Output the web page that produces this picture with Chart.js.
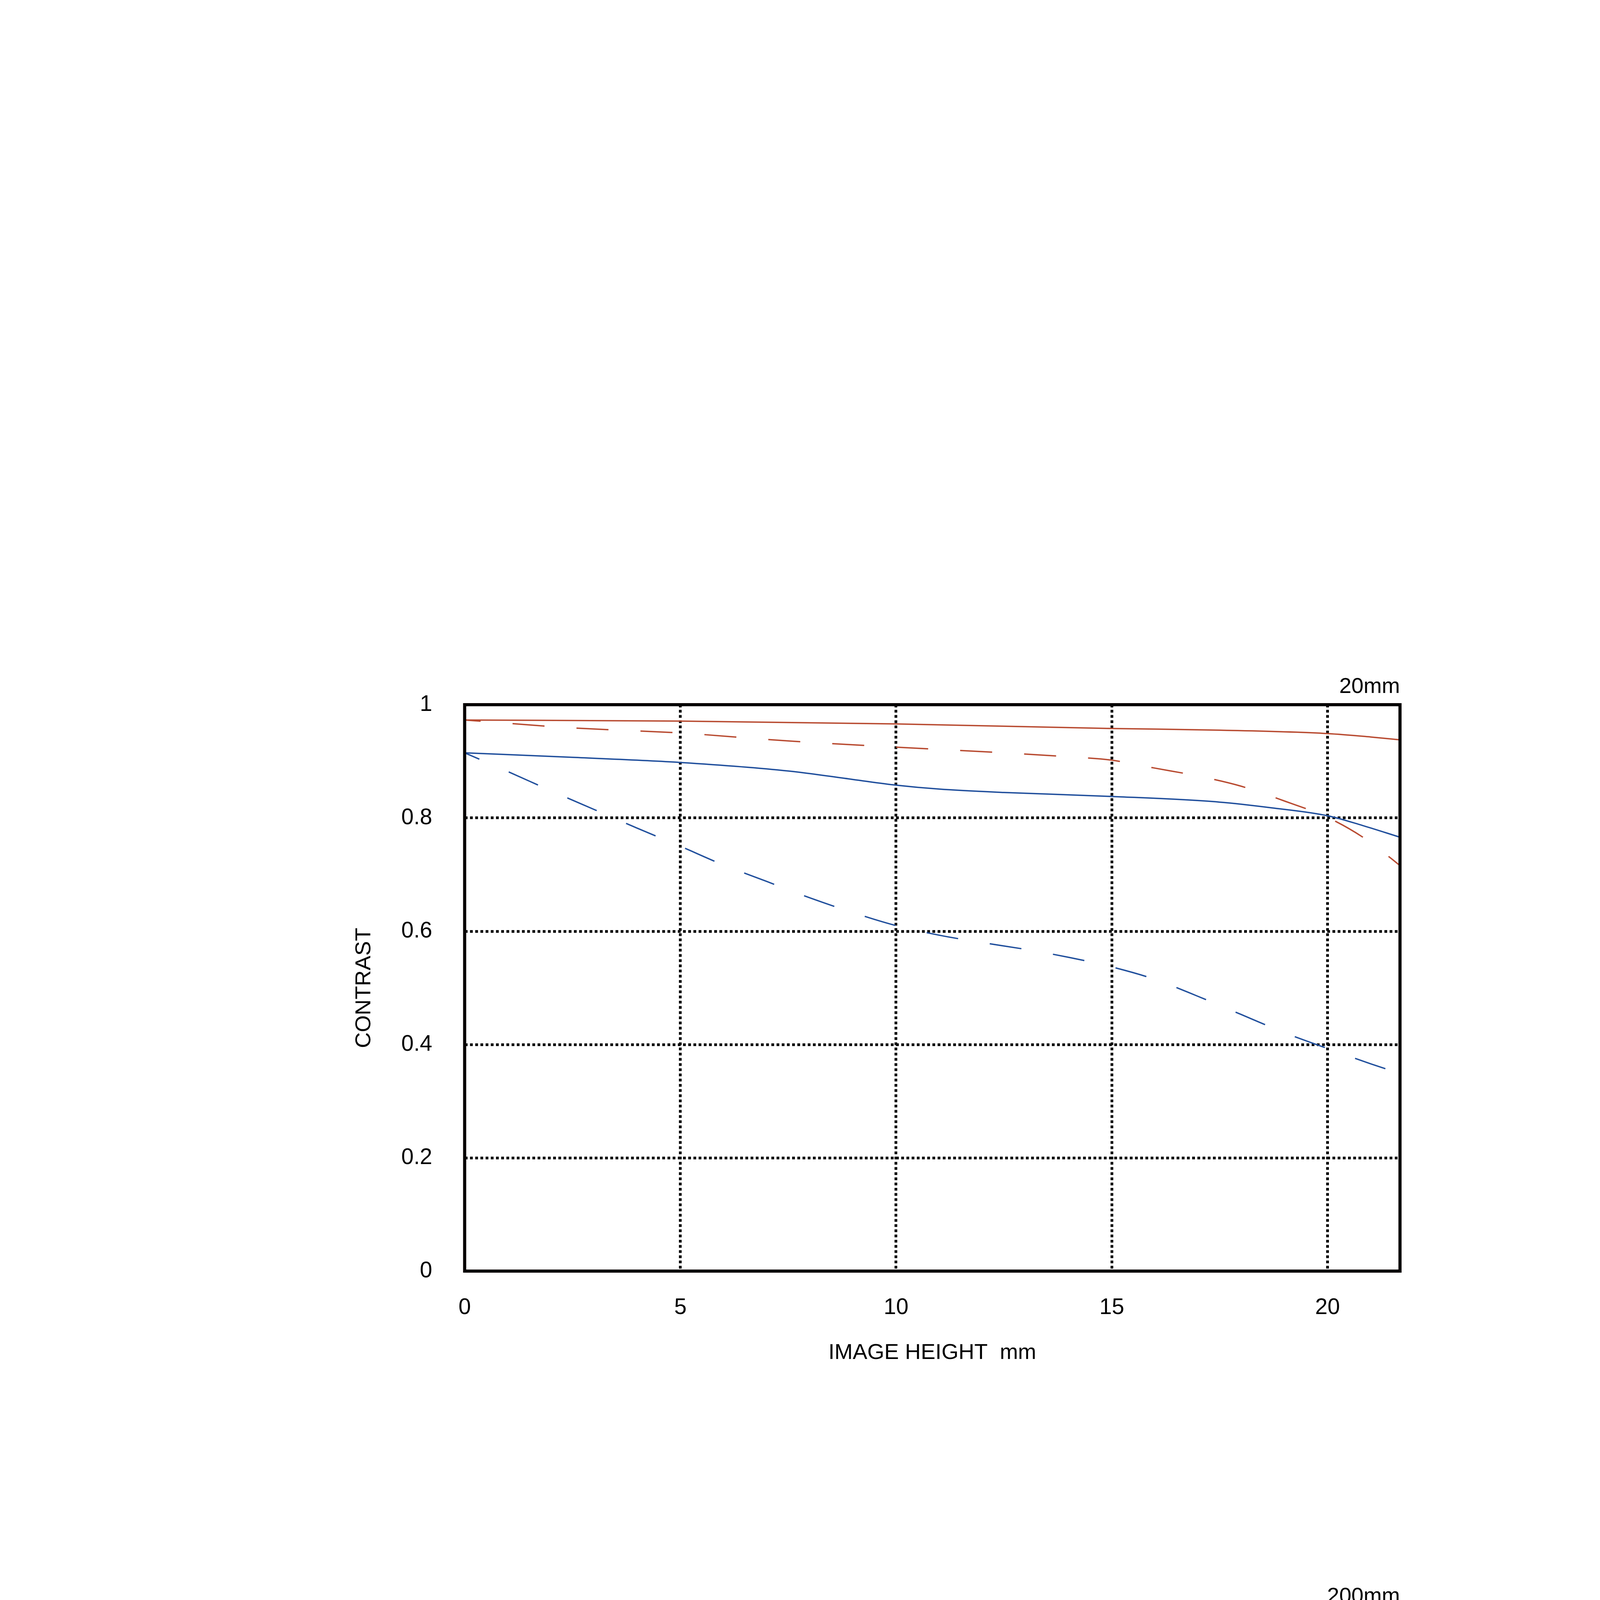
<!DOCTYPE html>
<html>
<head>
<meta charset="utf-8">
<script src="https://cdn.jsdelivr.net/npm/chart.js@4.4.1/dist/chart.umd.min.js"></script>
<style>
  html, body { margin: 0; padding: 0; background: #fff; }
  #page { position: relative; width: 4500px; height: 6750px; background: #fff; }
  canvas { position: absolute; }
</style>
</head>
<body>
<div id="page">
  <canvas id="wide" width="3000" height="2000" style="left:800px; top:1650px;"></canvas>
  <canvas id="tele" width="3000" height="2000" style="left:800px; top:3979px;"></canvas>
</div>
<script>
// image height (mm) and contrast values
const X_MAX = 21.68;
const Y_TICKS_STEP = 0.2;
const X_TICKS_STEP = 5;

// 20mm
const wideS10X = [0, 5, 10, 15, 17.5, 20, 21, 21.68];
const wideS10Y = [0.973, 0.971, 0.966, 0.958, 0.955, 0.949, 0.943, 0.938];
const wideM10X = [0, 2.5, 5, 7.5, 10, 12.5, 14, 15, 16, 17, 18, 19, 20, 20.8, 21.4, 21.68];
const wideM10Y = [0.973, 0.959, 0.950, 0.936, 0.925, 0.915, 0.908, 0.902, 0.888, 0.874, 0.856, 0.830, 0.801, 0.767, 0.733, 0.716];
const wideS30X = [0, 2.5, 5, 7.5, 9, 10, 11, 12.5, 15, 17.5, 18.7, 20, 20.8, 21.68];
const wideS30Y = [0.915, 0.907, 0.898, 0.883, 0.868, 0.858, 0.851, 0.845, 0.838, 0.828, 0.818, 0.804, 0.787, 0.766];
const wideM30X = [0, 1, 2, 3, 4, 5, 6, 7, 8, 9, 10, 11, 12, 13, 14, 15, 16, 17, 18, 19, 20, 21, 21.68];
const wideM30Y = [0.915, 0.882, 0.848, 0.815, 0.782, 0.750, 0.717, 0.688, 0.659, 0.633, 0.610, 0.593, 0.580, 0.568, 0.554, 0.537, 0.515, 0.485, 0.453, 0.421, 0.393, 0.366, 0.349];

// 200mm
const teleS10X = [0, 5, 10, 15, 17.5, 20, 21, 21.68];
const teleS10Y = [0.955, 0.952, 0.948, 0.944, 0.934, 0.923, 0.917, 0.912];
const teleM10X = [0, 1, 2, 3, 4, 5, 6, 7, 8, 9, 10, 11, 12, 13, 14, 15, 16, 17, 18, 19, 20, 21, 21.68];
const teleM10Y = [0.955, 0.951, 0.947, 0.944, 0.942, 0.939, 0.936, 0.932, 0.926, 0.919, 0.912, 0.902, 0.889, 0.875, 0.857, 0.836, 0.814, 0.785, 0.755, 0.721, 0.687, 0.650, 0.621];
const teleS30X = [0, 2.5, 5, 7.5, 10, 12.5, 14, 15, 16, 17, 17.5, 18, 19, 20, 21, 21.68];
const teleS30Y = [0.850, 0.843, 0.836, 0.828, 0.817, 0.808, 0.802, 0.792, 0.779, 0.766, 0.756, 0.746, 0.724, 0.706, 0.685, 0.669];
const teleM30X = [0, 1, 2, 3, 4, 5, 6, 7, 8, 9, 10, 11, 12, 13, 14, 15, 16, 17, 18, 19, 20, 21, 21.68];
const teleM30Y = [0.850, 0.832, 0.814, 0.797, 0.778, 0.758, 0.738, 0.713, 0.683, 0.648, 0.610, 0.577, 0.544, 0.510, 0.480, 0.456, 0.439, 0.426, 0.417, 0.409, 0.397, 0.380, 0.367];

const RED = "#b84a30";
const BLUE = "#1f4e9c";
const FONT = "'Liberation Sans', Arial, Helvetica, sans-serif";

function pts(xs, ys) {
  return xs.map((x, i) => ({ x, y: ys[i] }));
}

function series(xs, ys, color, dashed) {
  return {
    data: pts(xs, ys),
    borderColor: color,
    borderWidth: 3.5,
    borderDash: dashed ? [82, 82] : [],
    borderDashOffset: dashed ? 41 : 0,
    pointRadius: 0,
    fill: false,
    cubicInterpolationMode: "monotone",
  };
}

// heavy black frame round the plot area
const frame = {
  id: "frame",
  afterDatasetsDraw(chart) {
    const a = chart.chartArea, ctx = chart.ctx;
    ctx.save();
    ctx.lineWidth = 8;
    ctx.strokeStyle = "#050000";
    ctx.strokeRect(a.left, a.top, a.right - a.left, a.bottom - a.top);
    ctx.restore();
  },
};

function makeChart(id, label, datasets) {
  const grid = { color: "#000", lineWidth: 7, drawTicks: false };
  const gridBorder = { display: false, dash: [7, 6.3] };
  return new Chart(document.getElementById(id), {
    type: "line",
    data: { datasets },
    plugins: [frame],
    options: {
      responsive: false,
      animation: false,
      devicePixelRatio: 1,
      layout: { padding: { left: 0, top: 0, right: 216, bottom: 136 } },
      plugins: {
        legend: { display: false },
        tooltip: { enabled: false },
        title: {
          display: true, text: label, align: "end", color: "#000",
          font: { family: FONT, size: 56, weight: "normal", lineHeight: 1.2 },
          padding: { top: 74.9, bottom: 11.9 },
        },
      },
      scales: {
        x: {
          type: "linear", min: 0, max: X_MAX,
          grid, border: gridBorder,
          ticks: {
            stepSize: X_TICKS_STEP, includeBounds: false, padding: 60, color: "#000",
            maxRotation: 0, font: { family: FONT, size: 57 },
          },
          afterBuildTicks(s) { s.ticks = s.ticks.filter(t => t.value % X_TICKS_STEP === 0); },
          afterFit(s) { s.height = 260; },
          title: {
            display: true, text: "IMAGE HEIGHT  mm", color: "#000",
            font: { family: FONT, size: 56, lineHeight: 1.2 },
            padding: { top: 0, bottom: 16.4 },
          },
        },
        y: {
          min: 0, max: 1,
          grid, border: gridBorder,
          ticks: {
            stepSize: Y_TICKS_STEP, padding: 83, color: "#000",
            font: { family: FONT, size: 57 },
            callback: v => String(Number(v.toFixed(1))),
          },
          afterFit(s) { s.width = 389.5; },
          title: {
            display: true, text: "CONTRAST", color: "#000",
            font: { family: FONT, size: 56, lineHeight: 1.2 },
            padding: { top: 99.4, bottom: 0 },
          },
        },
      },
    },
  });
}

makeChart("wide", "20mm", [
  series(wideS10X, wideS10Y, RED, false),
  series(wideM10X, wideM10Y, RED, true),
  series(wideS30X, wideS30Y, BLUE, false),
  series(wideM30X, wideM30Y, BLUE, true),
]);

makeChart("tele", "200mm", [
  series(teleS10X, teleS10Y, RED, false),
  series(teleM10X, teleM10Y, RED, true),
  series(teleS30X, teleS30Y, BLUE, false),
  series(teleM30X, teleM30Y, BLUE, true),
]);
</script>
</body>
</html>
